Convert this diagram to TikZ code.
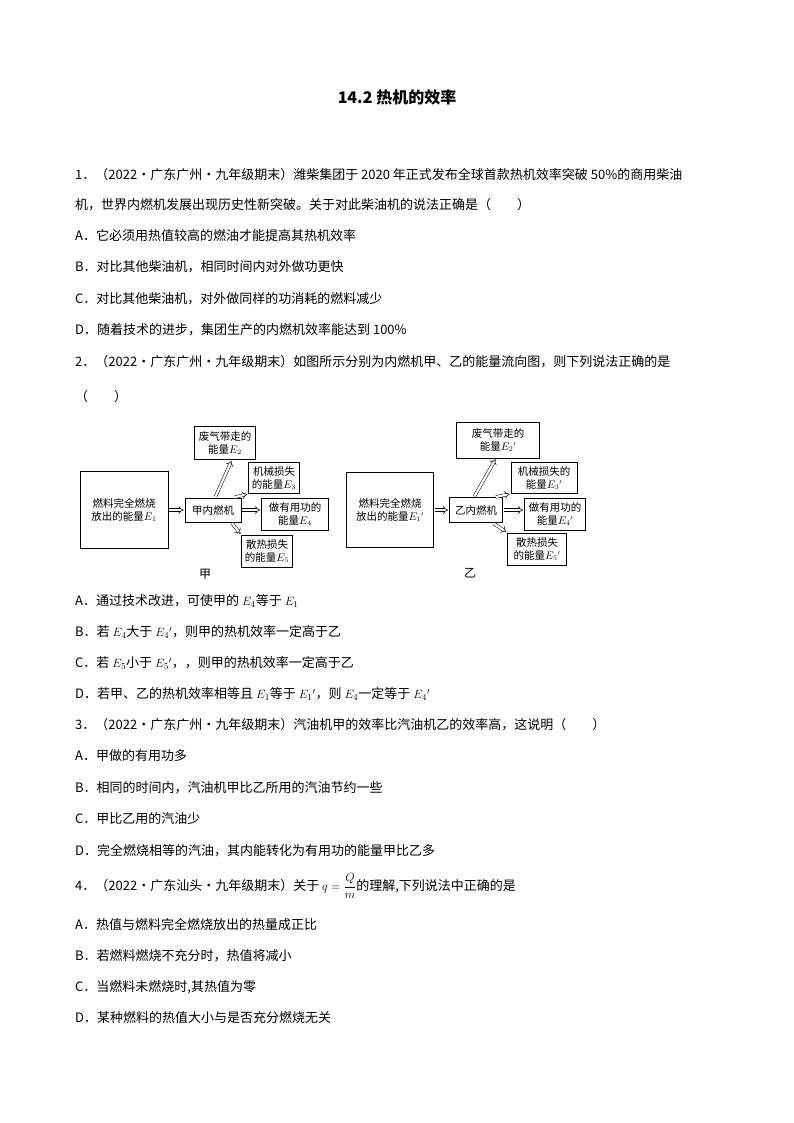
\documentclass[tikz,border=0pt]{standalone}
\usepackage{fontspec}
\setmainfont{Liberation Serif}
\newfontfamily\cjk{Noto Sans CJK SC}
\usetikzlibrary{arrows.meta}
\begin{document}
\begin{tikzpicture}[x=1pt,y=-1pt,
  line/.style={anchor=west,inner sep=0pt,font=\cjk\fontsize{13}{15}\selectfont},
  bx/.style={draw,line width=0.7pt,align=center,inner sep=1pt,font=\cjk\fontsize{10.5}{13}\selectfont},
  ar/.style={double,double distance=2.2pt,line width=0.5pt,-{Implies},shorten >=1pt,shorten <=1pt}]
\useasboundingbox (0,0) rectangle (794,1123);
\node[font=\cjk\bfseries\fontsize{16}{18}\selectfont] (title) at (397,97) {14.2 热机的效率};
\node[line] (q1) at (75,175) {1．（2022·广东广州·九年级期末）潍柴集团于 2020 年正式发布全球首款热机效率突破 50\%的商用柴油};
\node[line] (q1b) at (75,205) {机，世界内燃机发展出现历史性新突破。关于对此柴油机的说法正确是（\qquad）};
\node[line] (q1A) at (75,236) {A．它必须用热值较高的燃油才能提高其热机效率};
\node[line] (q1B) at (75,267) {B．对比其他柴油机，相同时间内对外做功更快};
\node[line] (q1C) at (75,299) {C．对比其他柴油机，对外做同样的功消耗的燃料减少};
\node[line] (q1D) at (75,330) {D．随着技术的进步，集团生产的内燃机效率能达到 100\%};
\node[line] (q2) at (75,362) {2．（2022·广东广州·九年级期末）如图所示分别为内燃机甲、乙的能量流向图，则下列说法正确的是};
\node[line] (q2b) at (75,397) {（\qquad）};
% diagram 甲
\node[bx,minimum width=88pt,minimum height=77pt] (a1) at (124,510) {燃料完全燃烧\\放出的能量$E_1$};
\node[bx,minimum width=56pt,minimum height=24pt] (a0) at (213,510) {甲内燃机};
\node[bx,minimum width=61pt,minimum height=33pt] (a2) at (225,443) {废气带走的\\能量$E_2$};
\node[bx,minimum width=51pt,minimum height=31pt] (a3) at (274,478) {机械损失\\的能量$E_3$};
\node[bx,minimum width=67pt,minimum height=32pt] (a4) at (295,514) {做有用功的\\能量$E_4$};
\node[bx,minimum width=51pt,minimum height=32pt] (a5) at (267,551) {散热损失\\的能量$E_5$};
\node[font=\cjk\fontsize{12}{14}\selectfont] (la) at (205,574) {甲};
\draw[ar] (a1.east) -- (a0.west);
\draw[ar] (a0.north) ++(2,0) coordinate (a0n) (a0n) -- (a2.south -| 232,0) ;
\draw[ar] (a0.north east) ++(-8,0) coordinate (a0ne) (a0ne) -- (a3.south west);
\draw[ar] (a0.east) -- (a4.west |- a0.east);
\draw[ar] (a0.south east) ++(-10,0) coordinate (a0se) (a0se) -- (a5.north west);
% diagram 乙
\node[bx,minimum width=87pt,minimum height=75pt] (b1) at (390,510) {燃料完全燃烧\\放出的能量$E_1{}'$};
\node[bx,minimum width=53pt,minimum height=25pt] (b0) at (476,510) {乙内燃机};
\node[bx,minimum width=83pt,minimum height=36pt] (b2) at (498,440) {废气带走的\\能量$E_2{}'$};
\node[bx,minimum width=66pt,minimum height=31pt] (b3) at (544,478) {机械损失的\\能量$E_3{}'$};
\node[bx,minimum width=61pt,minimum height=32pt] (b4) at (555,514) {做有用功的\\能量$E_4{}'$};
\node[bx,minimum width=59pt,minimum height=32pt] (b5) at (537,549) {散热损失\\的能量$E_5{}'$};
\node[font=\cjk\fontsize{12}{14}\selectfont] (lb) at (470,573) {乙};
\draw[ar] (b1.east) -- (b0.west);
\draw[ar] (b0.north) ++(-2,0) coordinate (b0n) (b0n) -- (b2.south -| 496,0);
\draw[ar] (b0.north east) ++(-8,0) coordinate (b0ne) (b0ne) -- (b3.south west);
\draw[ar] (b0.east) -- (b4.west |- b0.east);
\draw[ar] (b0.south east) ++(-10,0) coordinate (b0se) (b0se) -- (b5.north west);
\node[line] (q2A) at (75,601) {A．通过技术改进，可使甲的 $E_4$等于 $E_1$};
\node[line] (q2B) at (75,632) {B．若 $E_4$大于 $E_4{}'$，则甲的热机效率一定高于乙};
\node[line] (q2C) at (75,663) {C．若 $E_5$小于 $E_5{}'$，，则甲的热机效率一定高于乙};
\node[line] (q2D) at (75,694) {D．若甲、乙的热机效率相等且 $E_1$等于 $E_1{}'$，则 $E_4$一定等于 $E_4{}'$};
\node[line] (q3) at (75,725) {3．（2022·广东广州·九年级期末）汽油机甲的效率比汽油机乙的效率高，这说明（\qquad）};
\node[line] (q3A) at (75,756) {A．甲做的有用功多};
\node[line] (q3B) at (75,788) {B．相同的时间内，汽油机甲比乙所用的汽油节约一些};
\node[line] (q3C) at (75,819) {C．甲比乙用的汽油少};
\node[line] (q3D) at (75,851) {D．完全燃烧相等的汽油，其内能转化为有用功的能量甲比乙多};
\node[line] (q4) at (75,886) {4．（2022·广东汕头·九年级期末）关于 $q=\displaystyle\frac{Q}{m}$的理解,下列说法中正确的是};
\node[line] (q4A) at (75,925) {A．热值与燃料完全燃烧放出的热量成正比};
\node[line] (q4B) at (75,956) {B．若燃料燃烧不充分时，热值将减小};
\node[line] (q4C) at (75,987) {C．当燃料未燃烧时,其热值为零};
\node[line] (q4D) at (75,1018) {D．某种燃料的热值大小与是否充分燃烧无关};
\end{tikzpicture}
\end{document}
